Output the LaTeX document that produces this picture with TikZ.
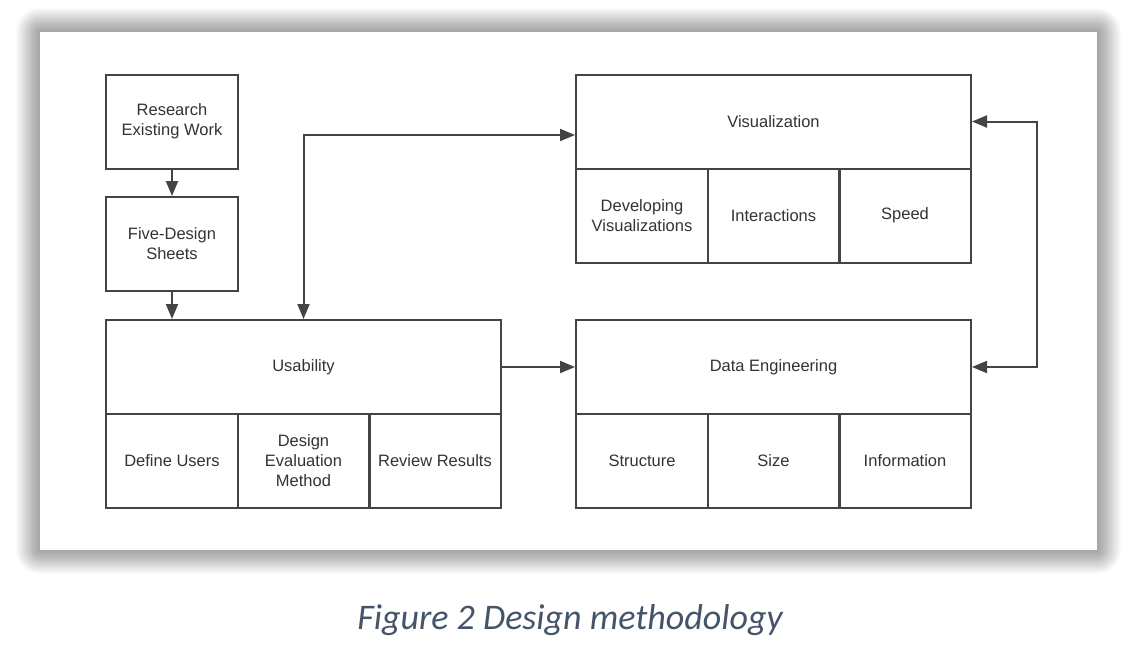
\documentclass[tikz,border=0pt]{standalone}
\usepackage{fontspec}
\setmainfont{Liberation Sans}
\newfontfamily\capfont{Carlito}
\usetikzlibrary{arrows.meta}
\definecolor{linegray}{HTML}{444444}
\definecolor{textgray}{HTML}{333333}
\definecolor{capblue}{HTML}{44546A}

\begin{document}
\begin{tikzpicture}[x=1pt,y=-1pt,
    box/.style={draw=linegray,line width=2pt,align=center,inner sep=0pt,
      text=textgray,font=\fontsize{16.5}{20}\selectfont},
    wide/.style={box,minimum width=395pt,minimum height=94pt},
    cell/.style={box,minimum width=132pt,minimum height=94pt},
    link/.style={draw=linegray,line width=2pt,-{Triangle[length=15pt,width=12pt]}},
    twoway/.style={link,{Triangle[length=15pt,width=12pt]}-{Triangle[length=15pt,width=12pt]}}]
  \useasboundingbox[fill=white] (0,0) rectangle (1137,659);
  % panel and its shadow
  \foreach \i in {1,...,24}
    \fill[black,opacity=0.016,rounded corners=\i pt] (40-\i,32-\i) rectangle (1097+\i,550+\i);
  \fill[white] (40,32) rectangle (1097,550);

  \node[cell] (research) at (172,121.5) {Research\\Existing Work};
  \node[cell] (five) at (172,244) {Five-Design\\Sheets};

  \node[wide] (usab) at (303.5,367) {Usability};
  \node[cell] (users) at (172,460.5) {Define Users};
  \node[cell] (method) at (303.5,460.5) {Design\\Evaluation\\Method};
  \node[cell] (review) at (435,460.5) {Review Results};

  \node[wide] (vis) at (773.5,121.5) {Visualization};
  \node[cell] (devel) at (642,215.5) {Developing\\Visualizations};
  \node[cell] (inter) at (773.5,215.5) {Interactions};
  \node[cell] (speed) at (905,215.5) {Speed};

  \node[wide] (data) at (773.5,367) {Data Engineering};
  \node[cell] (struct) at (642,460.5) {Structure};
  \node[cell] (size) at (773.5,460.5) {Size};
  \node[cell] (info) at (905,460.5) {Information};

  \path[link] (research) -- (five);
  \path[link] (five.south) -- (five.south |- usab.north);
  \path[link] (usab.east) -- (data.west);
  \path[twoway] (usab.north) |- ([yshift=-13.5pt]vis.west);
  \path[twoway] (vis.east) -- ++(65,0) |- (data.east);

  \node[text=capblue,font=\capfont\itshape\fontsize{36}{40}\selectfont] (caption) at (570,620) {Figure 2 Design methodology};
\end{tikzpicture}
\end{document}
